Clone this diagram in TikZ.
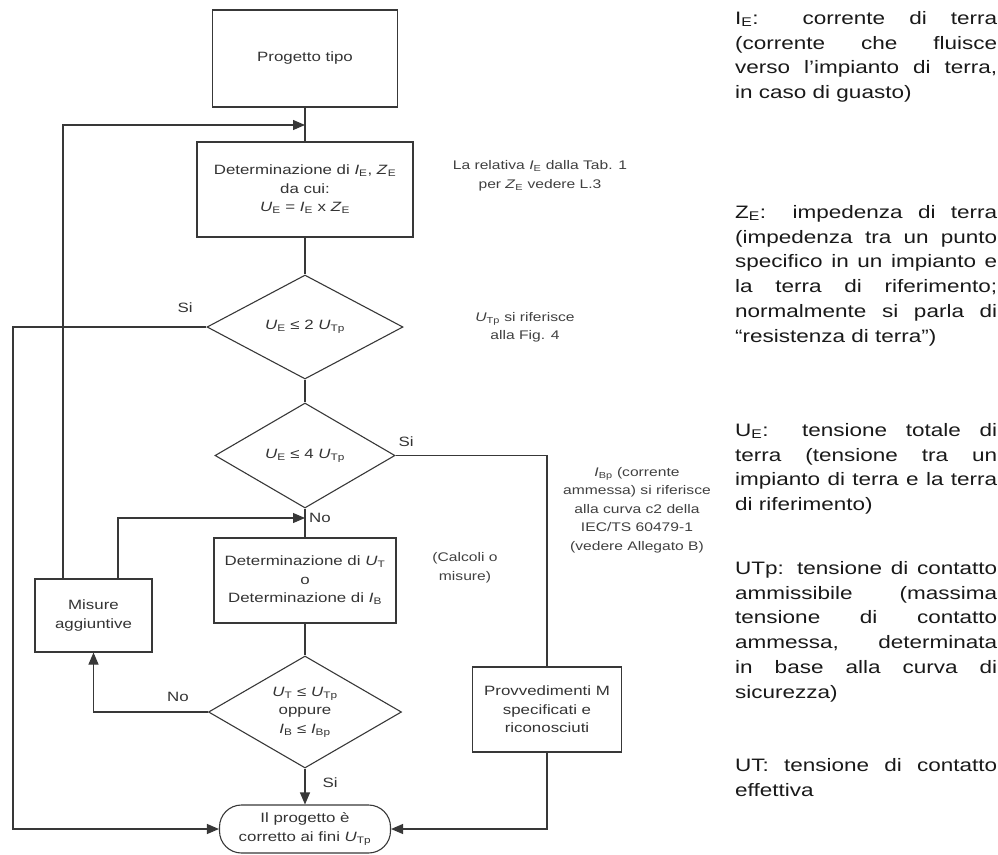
\documentclass[tikz,border=0pt]{standalone}
\usepackage{fontspec}
\setmainfont[FakeStretch=1.25]{Liberation Sans}
\usepackage{tikz}
\usetikzlibrary{arrows.meta, positioning, shapes.geometric, calc}
\newcommand{\vsym}[2]{\textit{#1}\textsubscript{\upshape #2}}

\begin{document}
\begin{tikzpicture}[
    x=1pt, y=-1pt,
    ln/.style={draw=black!78, line width=1.1pt},
    box/.style={ln, rectangle, inner sep=2pt, align=center, text=black!80, font=\fontsize{13.5}{18.5}\selectfont},
    dec/.style={ln, diamond, aspect=1.8, inner sep=0pt, align=center, text=black!80, font=\fontsize{13.5}{18.5}\selectfont},
    endbox/.style={box, rounded corners=22pt},
    arr/.style={ln, -{Triangle[length=12pt, width=10pt]}},
    lbl/.style={text=black!80, font=\fontsize{13.5}{16}\selectfont},
    note/.style={align=center, text=black!75, font=\fontsize{12.5}{18.5}\selectfont},
    gloss/.style={anchor=north west, text width=262pt, align=justify, inner sep=0pt, text=black!90, font=\fontsize{18}{24.8}\selectfont},
]
\useasboundingbox (0,0) rectangle (998,854);

% ── Flow nodes ──
\node[box, minimum width=185pt, minimum height=97pt] (prog) at (305,58.5) {Progetto tipo};
\node[box, minimum width=216pt, minimum height=95pt] (detE) at (305,189.5) {Determinazione di \vsym{I}{E}, \vsym{Z}{E}\\da cui:\\\vsym{U}{E} = \vsym{I}{E} x \vsym{Z}{E}};
\node[dec, minimum width=196pt, minimum height=104pt] (chk2) at (305,327) {\vsym{U}{E} ≤ 2 \vsym{U}{Tp}};
\node[dec, minimum width=180pt, minimum height=105pt] (chk4) at (305,455.5) {\vsym{U}{E} ≤ 4 \vsym{U}{Tp}};
\node[box, minimum width=182pt, minimum height=85pt] (detT) at (305,580.5) {Determinazione di \vsym{U}{T}\\o\\Determinazione di \vsym{I}{B}};
\node[box, minimum width=117pt, minimum height=73pt] (mis) at (93.5,615.5) {Misure\\aggiuntive};
\node[dec, minimum width=193pt, minimum height=112pt] (chkT) at (305,712) {\vsym{U}{T} ≤ \vsym{U}{Tp}\\oppure\\\vsym{I}{B} ≤ \vsym{I}{Bp}};
\node[box, minimum width=149pt, minimum height=85pt] (prov) at (547,709.5) {Provvedimenti M\\specificati e\\riconosciuti};
\node[endbox, minimum width=171pt, minimum height=48pt] (fine) at (305,829) {Il progetto è\\corretto ai fini \vsym{U}{Tp}};

% ── Bends ──
\coordinate (lft) at (13,327);
\coordinate (rgt) at (547,455.5);
\coordinate (j1) at (305,125);
\coordinate (j2) at (305,518);

% ── Connectors ──
\draw[ln] (prog) -- (detE);
\draw[ln] (detE) -- (chk2);
\draw[ln] (chk2) -- (chk4);
\draw[ln] (chk4) -- (detT);
\draw[ln] (detT) -- (chkT);
\draw[arr] (chkT) -- (fine);
\draw[arr] (chk2.west) -- (lft) |- (fine.west);
\draw[ln] (chk4.east) -- (rgt) -- (prov.north);
\draw[arr] (prov.south) |- (fine.east);
\draw[arr] (chkT.west) -| (mis.south);
\draw[arr] ([xshift=-30.5pt]mis.north) |- (j1);
\draw[arr] ([xshift=24.5pt]mis.north) |- (j2);

% ── Branch labels ──
\node[lbl] (si2) at (185,308) {Si};
\node[lbl] (si4) at (406,442) {Si};
\node[lbl] (no4) at (320,518) {No};
\node[lbl] (noT) at (178,697) {No};
\node[lbl] (siT) at (330,783) {Si};

% ── Side notes ──
\node[note] (n1) at (540,176) {La relativa \vsym{I}{E} dalla Tab. 1\\per \vsym{Z}{E} vedere L.3};
\node[note] (n2) at (525,327.5) {\vsym{U}{Tp} si riferisce\\alla Fig. 4};
\node[note] (n3) at (637,510) {\vsym{I}{Bp} (corrente\\ammessa) si riferisce\\alla curva c2 della\\IEC/TS 60479-1\\(vedere Allegato B)};
\node[note] (n4) at (465,568) {(Calcoli o\\misure)};

% ── Glossary (right column) ──
\node[gloss] (gI) at (735,11) {I\textsubscript{E}: corrente di terra\linebreak (corrente che fluisce\linebreak verso l’impianto di terra,\linebreak in caso di guasto)};
\node[gloss] (gZ) at (735,205) {Z\textsubscript{E}: impedenza di terra\linebreak (impedenza tra un punto\linebreak specifico in un impianto e\linebreak la terra di riferimento;\linebreak normalmente si parla di\linebreak “resistenza di terra”)};
\node[gloss] (gU) at (735,423) {U\textsubscript{E}: tensione totale di\linebreak terra (tensione tra un\linebreak impianto di terra e la terra\linebreak di riferimento)};
\node[gloss] (gUTp) at (735,561) {UTp: tensione di contatto\linebreak ammissibile (massima\linebreak tensione di contatto\linebreak ammessa, determinata\linebreak in base alla curva di\linebreak sicurezza)};
\node[gloss] (gUT) at (735,758) {UT: tensione di contatto\linebreak effettiva};

\end{tikzpicture}
\end{document}
